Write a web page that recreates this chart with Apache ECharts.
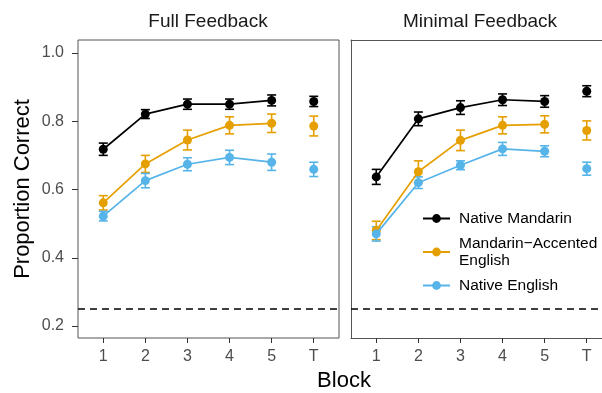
<!DOCTYPE html>
<html>
<head>
<meta charset="utf-8">
<script src="https://cdn.jsdelivr.net/npm/echarts@6/dist/echarts.min.js"></script>
<style>html,body{margin:0;padding:0;background:#fff}#c{width:602px;height:393px}</style>
</head>
<body>
<div id="c"></div>
<script>
const blocks = ['1', '2', '3', '4', '5', 'T'];
const groups = ['Native Mandarin', 'Mandarin\u2212Accented English', 'Native English'];
const yTicks = [0.2, 0.4, 0.6, 0.8, 1.0];
const chance = 0.25;

// Full Feedback
const fullMandarin = [0.718, 0.821, 0.850, 0.850, 0.861, 0.858];
const fullMandarinErr = [0.018, 0.013, 0.015, 0.015, 0.016, 0.015];
const fullAccented = [0.561, 0.675, 0.745, 0.788, 0.794, 0.786];
const fullAccentedErr = [0.021, 0.025, 0.029, 0.025, 0.027, 0.029];
const fullEnglish = [0.522, 0.626, 0.674, 0.694, 0.680, 0.659];
const fullEnglishErr = [0.014, 0.021, 0.019, 0.021, 0.024, 0.021];

// Minimal Feedback
const minMandarin = [0.637, 0.807, 0.840, 0.863, 0.858, 0.888];
const minMandarinErr = [0.022, 0.020, 0.020, 0.017, 0.017, 0.016];
const minAccented = [0.480, 0.652, 0.744, 0.788, 0.791, 0.773];
const minAccentedErr = [0.027, 0.032, 0.030, 0.025, 0.025, 0.028];
const minEnglish = [0.470, 0.620, 0.671, 0.719, 0.712, 0.661];
const minEnglishErr = [0.021, 0.017, 0.013, 0.019, 0.016, 0.019];

const colors = ['#000000', '#E69F00', '#56B4E9'];
const panels = [
  {title: 'Full Feedback', vals: [fullMandarin, fullAccented, fullEnglish], errs: [fullMandarinErr, fullAccentedErr, fullEnglishErr]},
  {title: 'Minimal Feedback', vals: [minMandarin, minAccented, minEnglish], errs: [minMandarinErr, minAccentedErr, minEnglishErr]}
];

const FONT = 'Liberation Sans, Arial, Helvetica, sans-serif';
const xPos = blocks.map((b, i) => i + 1);
const BORDER = '#555';

const chart = echarts.init(document.getElementById('c'), null, {renderer: 'canvas'});

const grids = [
  {left: 78, top: 40, width: 261, height: 298, show: true, borderColor: BORDER, borderWidth: 1, backgroundColor: 'transparent', outerBoundsMode: 'none'},
  {left: 351, top: 40, right: -10, height: 298, show: false, outerBoundsMode: 'none'}
];

const xAxes = grids.map((g, gi) => ({
  gridIndex: gi, type: 'value', min: 0.4, max: 6.6, position: 'bottom',
  axisLine: {show: gi === 1, onZero: false, lineStyle: {color: BORDER, width: 1}},
  splitLine: {show: false},
  axisTick: {show: true, customValues: xPos, length: 5, lineStyle: {color: '#333', width: 1}},
  axisLabel: {customValues: xPos, formatter: v => blocks[Math.round(v) - 1], fontSize: 16, color: '#4d4d4d', fontFamily: FONT, margin: 11}
}));
// top border of the right panel
xAxes.push({
  gridIndex: 1, type: 'value', min: 0.4, max: 6.6, position: 'top',
  axisLine: {show: true, onZero: false, lineStyle: {color: BORDER, width: 1}},
  axisTick: {show: false}, axisLabel: {show: false}, splitLine: {show: false}
});

const yAxes = grids.map((g, gi) => ({
  gridIndex: gi, type: 'value', min: 0.165, max: 1.038,
  axisLine: {show: gi === 1, onZero: false, lineStyle: {color: BORDER, width: 1}},
  splitLine: {show: false},
  axisTick: {show: gi === 0, customValues: yTicks, length: 6, lineStyle: {color: '#333', width: 1}},
  axisLabel: {show: gi === 0, customValues: yTicks, formatter: v => v.toFixed(1), fontSize: 16, color: '#4d4d4d', fontFamily: FONT, margin: 14},
  name: gi === 0 ? 'Proportion Correct' : '',
  nameLocation: 'middle', nameGap: 44, nameRotate: 90,
  nameTextStyle: {fontSize: 22, color: '#000', fontFamily: FONT}
}));

const series = [];
panels.forEach((p, pi) => {
  groups.forEach((name, gi) => {
    const v = p.vals[gi];
    series.push({
      type: 'line', name: name, xAxisIndex: pi, yAxisIndex: pi,
      data: v.slice(0, 5).map((y, i) => [xPos[i], y]),
      symbol: 'circle', symbolSize: 9, showSymbol: true,
      lineStyle: {color: colors[gi], width: 1.7},
      itemStyle: {color: colors[gi]},
      z: 3 + gi, silent: true, animation: false,
      markLine: (gi === 0) ? {
        silent: true, symbol: 'none', label: {show: false},
        lineStyle: {color: '#000', type: [7, 5], width: 1.6},
        data: [{yAxis: chance}]
      } : undefined
    });
  });
});
panels.forEach((p, pi) => {
  groups.forEach((name, gi) => {
    const v = p.vals[gi];
    const e = p.errs[gi];
    series.push({
      type: 'scatter', name: name, xAxisIndex: pi, yAxisIndex: pi,
      data: [[xPos[5], v[5]]],
      symbol: 'circle', symbolSize: 9,
      itemStyle: {color: colors[gi], opacity: 1},
      z: 3 + gi, silent: true, animation: false
    });
    series.push({
      type: 'custom', name: name, xAxisIndex: pi, yAxisIndex: pi,
      data: v.map((y, i) => [xPos[i], y - e[i], y + e[i]]),
      renderItem: function (params, api) {
        const x = api.value(0);
        const lo = api.coord([x, api.value(1)]);
        const hi = api.coord([x, api.value(2)]);
        const w = 4.5;
        const st = {stroke: colors[gi], lineWidth: 1.6};
        return {type: 'group', children: [
          {type: 'line', shape: {x1: lo[0], y1: lo[1], x2: hi[0], y2: hi[1]}, style: st},
          {type: 'line', shape: {x1: lo[0] - w, y1: lo[1], x2: lo[0] + w, y2: lo[1]}, style: st},
          {type: 'line', shape: {x1: hi[0] - w, y1: hi[1], x2: hi[0] + w, y2: hi[1]}, style: st}
        ]};
      },
      encode: {x: 0, y: [1, 2]},
      z: 2 + gi, silent: true, animation: false
    });
  });
});

const option = {
  animation: false,
  backgroundColor: '#fff',
  grid: grids,
  xAxis: xAxes,
  yAxis: yAxes,
  legend: {
    data: groups,
    orient: 'vertical', left: 417, top: 205,
    itemWidth: 27, itemHeight: 11, itemGap: 8,
    selectedMode: false,
    formatter: n => n === groups[1] ? 'Mandarin\u2212Accented\nEnglish' : n,
    textStyle: {fontSize: 15.5, color: '#000', fontFamily: FONT, lineHeight: 17, padding: [0, 0, 0, 4]}
  },
  graphic: [
    {type: 'text', x: 208, y: 22, style: {text: panels[0].title, fontSize: 19, fill: '#1a1a1a', fontFamily: FONT, align: 'center', verticalAlign: 'middle'}},
    {type: 'text', x: 480, y: 22, style: {text: panels[1].title, fontSize: 19, fill: '#1a1a1a', fontFamily: FONT, align: 'center', verticalAlign: 'middle'}},
    {type: 'text', x: 344, y: 381, style: {text: 'Block', fontSize: 22, fill: '#000', fontFamily: FONT, align: 'center', verticalAlign: 'middle'}}
  ],
  series: series
};
chart.setOption(option);
</script>
</body>
</html>
